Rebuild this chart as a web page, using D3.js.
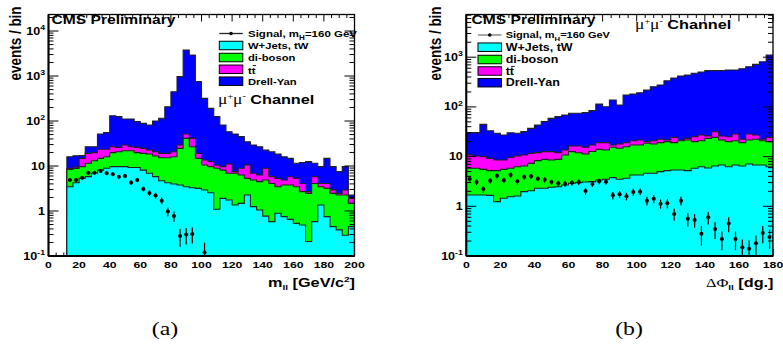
<!DOCTYPE html>
<html>
<head>
<meta charset="utf-8">
<script src="https://cdnjs.cloudflare.com/ajax/libs/d3/7.8.5/d3.min.js"></script>
<style>
  body { margin: 0; background: #fff; }
  svg { display: block; }
</style>
</head>
<body>
<svg id="chart" width="783" height="347"></svg>
<script>
// ---- (a) m_ll, 4 GeV bins from 12 to 200 ----
const mllEdges = d3.range(12, 201, 4);
const mllWjets = [3.47,4.26,5.3,5.8,6.9,8.1,8.9,9.7,9.7,9.7,9.3,9.3,8.1,6.9,5.8,4.72,4.26,3.98,3.79,3.47,3.30,3.19,2.93,2.55,1.09,1.91,1.75,1.36,1.48,2.27,1.25,1.05,0.77,0.58,0.89,0.75,0.65,0.53,0.49,0.21,0.58,1.36,0.75,0.45,0.38,0.29,0.45];
const mllDiboson = [4.9,4.6,4.4,5.7,6.2,6.7,7.2,10.1,11.1,12.2,12.6,10.5,11.0,11.6,10.9,10.6,11.0,12.1,20.9,37.7,23.6,11.6,7.6,7.15,7.8,6.2,5.15,5.54,4.82,3.03,3.65,3.45,4.13,3.52,2.58,3.04,3.14,2.94,2.2,2.26,3.52,2.11,2.44,2.02,1.89,1.98,1.03];
const mllTtbar = [0.4,0.6,5.1,7.6,6.7,8.7,7.4,7.1,5.2,7.4,5.0,6.2,5.6,4.2,4.1,3.8,3.8,4.7,4.6,10.2,14.3,4.3,3.1,2.8,1.6,1.6,4.2,0.6,2.6,5.2,2.0,1.8,4.0,1.7,1.83,1.11,2.0,1.83,1.41,0.22,1.7,0.63,0.91,0.46,0.2,0.66,0.43];
const mllDY = [7.3,7.5,2.2,7.8,7.1,27.9,31.6,104,99,82,84,71,64,59,79,96,189,428,938,3729,2889,731,305,178,114.5,71.8,46.8,43.9,36,24.2,22.4,20.6,13.8,15.0,13.2,11.2,9.0,6.2,7.8,9.8,5.7,5.6,10.7,6.77,5.03,6.77,0.36];
const mllSignal = [4.9,4.9,5.5,7.1,7.1,7.7,6.9,6.6,5.8,6.0,4.3,4.9,3.1,2.5,2.2,1.7,0.98,0.77,0.28,0.30,0.31,0,0.12];
const mllSignalErr = [0.49,0.49,0.52,0.6,0.6,0.62,0.59,0.57,0.54,0.55,0.46,0.49,0.39,0.35,0.33,0.29,0.22,0.2,0.12,0.12,0.12,0,0.077];

// ---- (b) delta phi_ll, 4 degree bins from 0 to 180 ----
const dphiEdges = d3.range(0, 181, 4);
const dphiWjets = [1.69,1.69,1.69,1.66,1.24,1.45,1.56,1.61,1.97,2.06,2.30,2.30,2.41,2.48,2.68,2.90,2.99,3.08,3.13,3.38,3.49,3.77,3.49,3.66,4.26,4.26,4.61,4.61,4.98,5.21,5.37,5.37,5.21,5.81,6.27,5.90,6.47,6.78,6.27,6.78,6.47,7.10,6.78,6.78,6.27];
const dphiDiboson = [4.12,4.12,3.85,3.55,3.97,4.09,4.25,4.66,4.50,5.26,5.98,6.51,6.14,6.33,8.12,9.7,9.0,8.2,9.5,10.6,10.1,11.6,11.2,12.1,12.8,12.8,13.9,13.3,14.1,14.8,13.7,15.5,16.4,14.2,14.6,17.4,17.9,14.8,13.7,14.1,12.6,14.5,15.5,14.1,13.7];
const dphiTtbar = [5.0,4.5,4.43,4.02,3.34,3.01,3.85,4.03,4.33,4.28,3.72,3.79,4.05,3.19,2.8,3.7,4.3,4.1,4.5,5.1,5.5,1.7,3.2,3.3,3.8,4.5,1.5,3.0,3.2,1.6,5.3,0.7,1.7,5.2,6.3,2.7,7.3,4.4,5.2,7.6,3.2,6.9,4.9,1.4,4.4];
const dphiDY = [19.5,20.0,34.6,24.0,20.9,18.7,20.6,19.1,21.0,25.4,31.2,37.9,46.3,51.6,55.1,58.0,58.0,61.2,66.9,94.9,81.9,120.9,91.1,153.9,161.1,171.4,199,234,254,315,358,397,416,449,477,510,504,510,527,524,565,616,691,790,1083];
const dphiSignal = [3.54,3.08,2.23,3.28,4.13,3.33,4.26,3.18,3.89,4.01,3.60,3.43,3.08,2.90,2.85,2.99,3.08,2.03,2.81,3.18,3.13,1.66,1.74,1.59,1.94,1.97,1.30,1.42,1.13,1.15,0.70,1.30,0.56,0.53,0.28,0.60,0.35,0.22,0.45,0.22,0.15,0.14,0.18,0.29,0.24];
const dphiSignalErr = [0.42,0.39,0.33,0.40,0.45,0.41,0.46,0.40,0.44,0.45,0.42,0.41,0.39,0.38,0.38,0.39,0.39,0.32,0.37,0.40,0.40,0.29,0.29,0.28,0.31,0.31,0.25,0.27,0.24,0.24,0.19,0.25,0.17,0.16,0.12,0.17,0.13,0.09,0.15,0.09,0.065,0.065,0.08,0.11,0.1];

const layerNames = ["W+Jets, tW", "di-boson", "tt", "Drell-Yan"];
const layerColors = ["#00ffff", "#00ff00", "#ff00ff", "#0000ff"];

const SANS = "'Liberation Sans', Arial, Helvetica, sans-serif";
const SERIF = "'Liberation Serif', 'Times New Roman', serif";
const SX = 1.25; // the whole figure is stretched horizontally

const svg = d3.select("#chart");
svg.append("rect").attr("width", 783).attr("height", 347).attr("fill", "#fff");

// text with the horizontal stretch of the original
function label(g, x, y, anchor, size, bold) {
  return g.append("text")
    .attr("transform", `translate(${x},${y}) scale(${SX},1)`)
    .attr("text-anchor", anchor)
    .style("font-family", SANS)
    .style("font-size", size + "px")
    .style("font-weight", bold ? "bold" : "normal");
}

function drawPanel(p) {
  const g = svg.append("g");
  const x = d3.scaleLinear().domain([0, p.xMax]).range([p.x0, p.x1]);
  const y = d3.scaleLog().domain([0.1, p.yMax]).range([p.y0, p.y1]);

  const clipId = "clip" + p.id;
  svg.append("clipPath").attr("id", clipId)
    .append("rect").attr("x", p.x0).attr("y", p.y1)
    .attr("width", p.x1 - p.x0).attr("height", p.y0 - p.y1);

  // x ticks (bottom and top)
  d3.range(0, p.xMax + 0.1, 5).forEach(v => {
    const len = v % 20 === 0 ? 7 : 3.5;
    g.append("line").attr("x1", x(v)).attr("x2", x(v)).attr("y1", p.y0).attr("y2", p.y0 - len)
      .attr("stroke", "#000").attr("stroke-width", 1);
    g.append("line").attr("x1", x(v)).attr("x2", x(v)).attr("y1", p.y1).attr("y2", p.y1 + len)
      .attr("stroke", "#000").attr("stroke-width", 1);
  });

  // stacked histograms
  const n = p.edges.length - 1;
  let run = new Array(n).fill(0);
  const cums = p.layers.map(arr => { run = run.map((c, i) => c + arr[i]); return run.slice(); });
  const area = d3.area().curve(d3.curveStepAfter)
    .x(d => x(d.x)).y0(p.y0).y1(d => y(d.v));
  const hist = g.append("g").attr("clip-path", `url(#${clipId})`);
  for (let k = cums.length - 1; k >= 0; k--) {
    const pts = p.edges.map((e, i) => ({ x: e, v: cums[k][Math.min(i, n - 1)] }));
    hist.append("path").datum(pts).attr("d", area)
      .attr("fill", layerColors[k]).attr("stroke", "#222").attr("stroke-width", 1.1);
  }

  // y ticks (left and right), drawn over the fills
  const maxP = Math.floor(Math.log10(p.yMax));
  for (let pw = -1; pw <= maxP; pw++) {
    for (let m = 1; m <= 9; m++) {
      const v = m * Math.pow(10, pw);
      if (v > p.yMax) break;
      const len = m === 1 ? 10 : 5;
      g.append("line").attr("x1", p.x0).attr("x2", p.x0 + len).attr("y1", y(v)).attr("y2", y(v))
        .attr("stroke", "#000").attr("stroke-width", 1);
      g.append("line").attr("x1", p.x1).attr("x2", p.x1 - len).attr("y1", y(v)).attr("y2", y(v))
        .attr("stroke", "#000").attr("stroke-width", 1);
    }
  }

  // signal points with error bars
  const sig = g.append("g").attr("clip-path", `url(#${clipId})`);
  p.signal.forEach((v, i) => {
    if (!v) return;
    const cx = x((p.edges[i] + p.edges[i + 1]) / 2);
    const e = p.signalErr[i];
    const lo = Math.max(v - e, 0.01);
    sig.append("line").attr("x1", cx).attr("x2", cx).attr("y1", y(lo)).attr("y2", y(v + e))
      .attr("stroke", "#000").attr("stroke-width", 1.2);
    sig.append("circle").attr("cx", cx).attr("cy", y(v)).attr("r", 2).attr("fill", "#000");
  });

  // frame
  g.append("rect").attr("x", p.x0).attr("y", p.y1).attr("width", p.x1 - p.x0).attr("height", p.y0 - p.y1)
    .attr("fill", "none").attr("stroke", "#000").attr("stroke-width", 1.3);
  g.append("line").attr("x1", p.x0).attr("x2", p.x0).attr("y1", p.y1).attr("y2", p.y0)
    .attr("stroke", "#000").attr("stroke-width", 2);
  g.append("line").attr("x1", p.x0).attr("x2", p.x1).attr("y1", p.y0).attr("y2", p.y0)
    .attr("stroke", "#000").attr("stroke-width", 2);

  // tick labels
  d3.range(0, p.xMax + 0.1, 20).forEach(v => {
    label(g, x(v), p.y0 + 11.5, "middle", 9.8, true).text(v);
  });
  for (let pw = -1; pw <= maxP; pw++) {
    const t = label(g, p.x0 - 3.5, y(Math.pow(10, pw)) + 3.6, "end", 10, true);
    if (pw === 0) t.text("1");
    else if (pw === 1) t.text("10");
    else {
      t.text("10");
      t.append("tspan").attr("dy", -4.5).style("font-size", "7px").text(pw);
    }
  }

  // axis titles
  label(g, p.yTitleX, 43.5, "middle", 13.5, true)
    .attr("transform", `translate(${p.yTitleX},43.5) scale(${SX},1) rotate(-90)`)
    .text("events / bin");
  const xt = label(g, p.x1 + 0.5, 287, "end", 13, true);
  p.xTitle(xt);

  label(g, p.cmsX, 23.8, "start", 12.5, true).text("CMS Preliminary");

  // channel label
  const ch = label(g, p.chX, p.chY, "start", 13, true);
  ch.append("tspan").style("font-family", SERIF).style("font-weight", "normal").style("font-size", "14px").text("μ");
  ch.append("tspan").style("font-family", SERIF).style("font-weight", "normal").style("font-size", "8px").attr("dy", -5).text("+");
  ch.append("tspan").style("font-family", SERIF).style("font-weight", "normal").style("font-size", "14px").attr("dy", 5).text("μ");
  ch.append("tspan").style("font-family", SERIF).style("font-weight", "normal").style("font-size", "8px").attr("dy", -5).text("-");
  ch.append("tspan").attr("dy", 5).text(" Channel");

  // legend
  const L = p.legend;
  const boxW = 23.5, boxH = 8.5;
  g.append("line").attr("x1", L.x).attr("x2", L.x + boxW).attr("y1", L.rows[0]).attr("y2", L.rows[0])
    .attr("stroke", L.lineColor).attr("stroke-width", 1.3);
  g.append("circle").attr("cx", L.x + boxW / 2).attr("cy", L.rows[0]).attr("r", 1.8).attr("fill", "#000");
  const st = label(g, L.tx, L.rows[0] + 3.2, "start", L.sigSize, true);
  st.append("tspan").text("Signal, m");
  st.append("tspan").attr("dy", 3).style("font-size", (L.sigSize * 0.7) + "px").text("H");
  st.append("tspan").attr("dy", -3).text("=160 GeV");
  layerNames.forEach((name, k) => {
    const cy = L.rows[k + 1];
    g.append("rect").attr("x", L.x).attr("y", cy - boxH / 2).attr("width", boxW).attr("height", boxH)
      .attr("fill", layerColors[k]).attr("stroke", "#000").attr("stroke-width", 1);
    label(g, L.tx, cy + (k === 2 ? 4.2 : 3.3), "start", L.size, true).text(name);
    if (k === 2) {
      // bar over the second t
      const f = L.size * SX;
      g.append("line").attr("x1", L.tx + 0.43 * f).attr("x2", L.tx + 0.72 * f)
        .attr("y1", cy + 4.2 - 0.88 * L.size).attr("y2", cy + 4.2 - 0.88 * L.size)
        .attr("stroke", "#000").attr("stroke-width", 0.9);
    }
  });
}

drawPanel({
  id: "a", xMax: 200, yMax: 23300, x0: 48.5, x1: 354.5, y0: 256, y1: 14.5,
  edges: mllEdges, layers: [mllWjets, mllDiboson, mllTtbar, mllDY],
  signal: mllSignal, signalErr: mllSignalErr,
  yTitleX: 21, cmsX: 51.5, chX: 218, chY: 104,
  xTitle: t => {
    t.append("tspan").text("m");
    t.append("tspan").attr("dy", 3).style("font-size", "8px").text("ll");
    t.append("tspan").attr("dy", -3).text(" [GeV/c");
    t.append("tspan").attr("dy", -5).style("font-size", "8px").text("2");
    t.append("tspan").attr("dy", 5).text("]");
  },
  legend: { x: 219.3, tx: 248, rows: [33.5, 45.5, 57.5, 69.3, 81.2], size: 9, sigSize: 9.2, lineColor: "#222" }
});

drawPanel({
  id: "b", xMax: 180, yMax: 7230, x0: 466.3, x1: 773, y0: 256, y1: 14.5,
  edges: dphiEdges, layers: [dphiWjets, dphiDiboson, dphiTtbar, dphiDY],
  signal: dphiSignal, signalErr: dphiSignalErr,
  yTitleX: 441, cmsX: 471.5, chX: 635, chY: 28.5,
  xTitle: t => {
    t.append("tspan").style("font-family", SERIF).style("font-weight", "normal").text("ΔΦ");
    t.append("tspan").attr("dy", 3).style("font-size", "8px").text("ll");
    t.append("tspan").attr("dy", -3).text(" [dg.]");
  },
  legend: { x: 478, tx: 505.7, rows: [35, 47.2, 59.5, 71, 82.7], size: 10, sigSize: 8.8, lineColor: "#777" }
});

// sub-figure captions
const cap = svg.append("g");
[["(a)", 165], ["(b)", 629]].forEach(([s, cx]) => {
  cap.append("text").attr("transform", `translate(${cx},335) scale(${SX},1)`)
    .attr("text-anchor", "middle").style("font-family", SERIF).style("font-size", "19px").text(s);
});
</script>
</body>
</html>
